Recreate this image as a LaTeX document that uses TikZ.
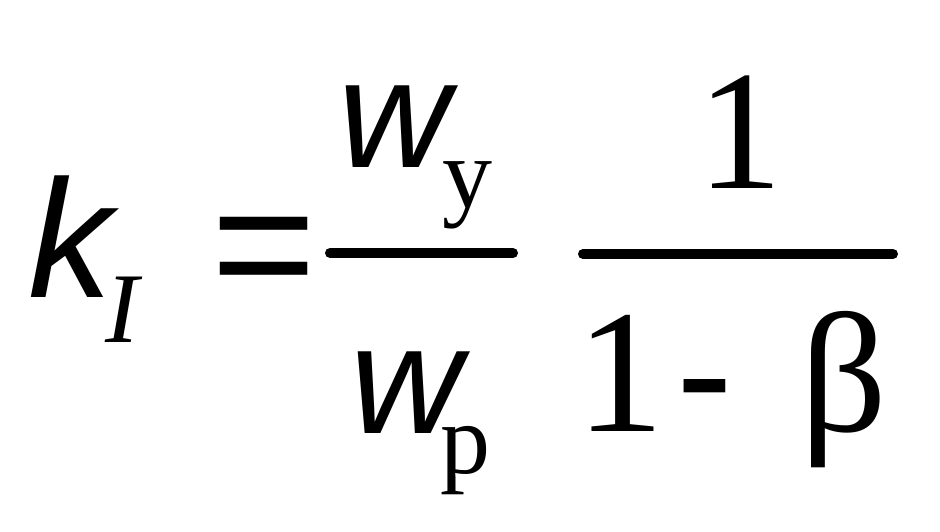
\documentclass[tikz,border=0pt]{standalone}
\usepackage{fontspec}
\setmainfont{Liberation Serif}
\newfontfamily\arialf{Liberation Sans}
\begin{document}
\begin{tikzpicture}[x=0.75pt,y=-0.75pt,
  txt/.style={inner sep=0pt, outer sep=0pt, anchor=base west},
  fracbar/.style={line width=7.5pt, line cap=round}]
\useasboundingbox[fill=white] (0,0) rectangle (940,532);
% k_I
\node[txt,font=\arialf\itshape\fontsize{126}{126}\selectfont] (k) at (28,297) {k};
\node[txt,font=\itshape\fontsize{75}{75}\selectfont] (I) at (105,342) {I};
% equals
\node[txt,anchor=base,font=\arialf\fontsize{135}{135}\selectfont] (eq) at (264,305) {=};
% first fraction
\coordinate (f1l) at (330,253);
\coordinate (f1r) at (513,253);
\draw[fracbar] (f1l) -- (f1r);
\node[txt,font=\arialf\itshape\fontsize{116}{116}\selectfont] (wy) at (338,167) {w};
\node[txt,font=\fontsize{75}{75}\selectfont] (y) at (442,207) {y};
\node[txt,font=\arialf\itshape\fontsize{116}{116}\selectfont] (wp) at (350,433) {w};
\node[txt,font=\fontsize{75}{75}\selectfont] (p) at (440,473) {p};
% second fraction
\coordinate (f2l) at (583,254);
\coordinate (f2r) at (893,254);
\draw[fracbar] (f2l) -- (f2r);
\node[txt,anchor=base,font=\fontsize{128}{128}\selectfont] (one) at (740,188) {1};
\node[txt,font=\fontsize{132}{132}\selectfont] (one2) at (576,431) {1};
\node[txt,font=\arialf\fontsize{128}{128}\selectfont] (minus) at (676,431) {-};
\node[txt,font=\fontsize{128}{128}\selectfont] (beta) at (800,431) {β};
\end{tikzpicture}
\end{document}
